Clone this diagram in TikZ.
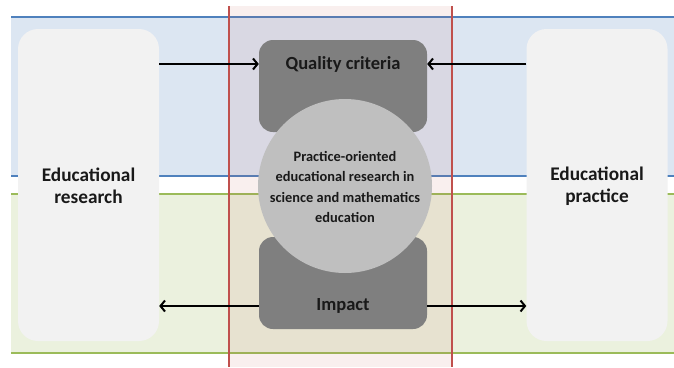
\documentclass[tikz,border=0pt]{standalone}
\usepackage{fontspec}
\setmainfont{Carlito}
\usetikzlibrary{arrows.meta}
\definecolor{bandblue}{HTML}{DCE6F2}
\definecolor{lineblue}{HTML}{4F81BD}
\definecolor{bandgreen}{HTML}{EBF1DE}
\definecolor{linegreen}{HTML}{9BBB59}
\definecolor{linered}{HTML}{C0504D}
\definecolor{sidegray}{HTML}{F2F2F2}
\definecolor{darkbox}{HTML}{7F7F7F}
\definecolor{circgray}{HTML}{BFBFBF}
\tikzset{
  sidebox/.style={fill=sidegray, draw=none, rounded corners=20pt, minimum width=141pt, minimum height=312pt, inner sep=0pt},
  darkbox/.style={fill=darkbox, draw=none, rounded corners=14pt, minimum width=168pt, minimum height=92pt, inner sep=0pt},
  bigtext/.style={font=\fontsize{19.3}{22}\selectfont\bfseries, align=center, text=black!90, inner sep=0pt},
  midtext/.style={font=\fontsize{18.5}{22}\selectfont\bfseries, text=black!90, inner sep=0pt},
  circtext/.style={font=\fontsize{14.4}{20.5}\selectfont\bfseries, align=center, text=black!90, inner sep=0pt},
  arr/.style={-{Straight Barb[length=4.5pt,width=11pt]}, line width=2pt, black},
}
\begin{document}
\begin{tikzpicture}[x=1pt,y=-1pt]
\useasboundingbox (0,0) rectangle (674,367);
\fill[white] (0,0) rectangle (674,367);
% bands
\fill[bandblue] (11,17) rectangle (674,176);
\draw[lineblue, line width=2pt] (11,17) -- (674,17);
\draw[lineblue, line width=2pt] (11,176) -- (674,176);
\fill[bandgreen] (11,194) rectangle (674,353);
\draw[linegreen, line width=2pt] (11,194) -- (674,194);
\draw[linegreen, line width=2pt] (11,353) -- (674,353);
% pink column
\fill[linered, opacity=0.09] (229,6) rectangle (452,367);
\draw[linered, line width=2pt] (229,6) -- (229,367);
\draw[linered, line width=2pt] (452,6) -- (452,367);
% side boxes
\node[sidebox] (lres) at (88.5,185) {};
\node[sidebox] (rprac) at (597,185) {};
\node[bigtext] (lrt) at (88.5,186) {Educational\\research};
\node[bigtext] (rpt) at (597,186) {Educational\\practice};
% dark boxes
\node[darkbox] (qbox) at (343,86) {};
\node[darkbox] (ibox) at (343,283) {};
\node[circle, fill=circgray, minimum size=174pt, inner sep=0pt] (circ) at (345,186) {};
\node[circtext] (ct) at (345,187) {Practice-oriented\\educational research in\\science and mathematics\\education};
\node[midtext] (qt) at (343,64) {Quality criteria};
\node[midtext] (it) at (343,306) {Impact};
% arrows
\draw[arr] (lres.east |- qt) -- (qbox.west |- qt);
\draw[arr] (rprac.west |- qt) -- (qbox.east |- qt);
\draw[arr] (ibox.west |- it) -- (lres.east |- it);
\draw[arr] (ibox.east |- it) -- (rprac.west |- it);
\end{tikzpicture}
\end{document}
